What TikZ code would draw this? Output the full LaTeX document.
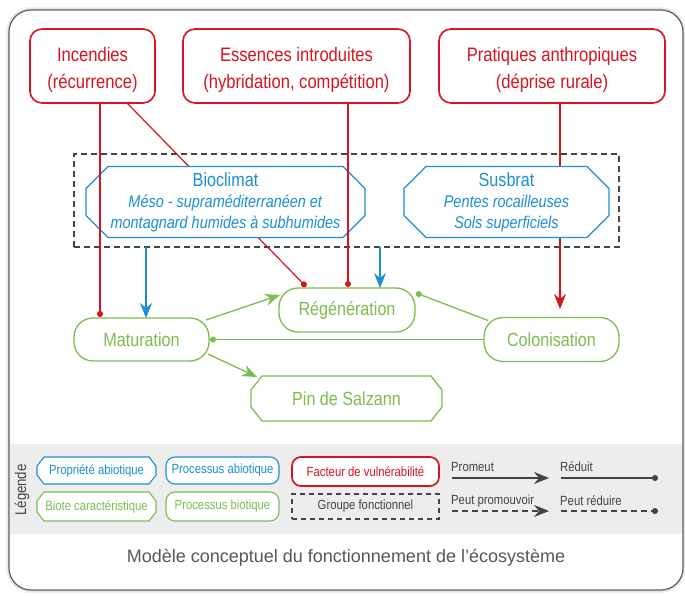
\documentclass[tikz,border=0pt]{standalone}
\usepackage{fontspec}
\setmainfont{Liberation Sans}[FakeStretch=0.85]
\newfontfamily\capfont{Liberation Sans}
\usetikzlibrary{arrows.meta,calc}

\definecolor{vred}{HTML}{D7141E}
\definecolor{ablue}{HTML}{1B8FD2}
\definecolor{bgreen}{HTML}{7CBD4F}
\definecolor{ink}{HTML}{444444}
\definecolor{bandgray}{HTML}{EDEDED}

\pgfdeclarelayer{back}
\pgfdeclarelayer{hidden}
\pgfdeclarelayer{mid}
\pgfsetlayers{back,hidden,mid,main}

% chamfered outline drawn around a (text-only) node: node, cut x, cut y, colour, width
\newcommand\octoutline[5]{%
  \draw[#4, line width=#5, fill=white, line join=miter]
    ($(#1.north west)+(#2,0)$) -- ($(#1.north east)+(-#2,0)$)
    -- ($(#1.north east)+(0,#3)$) -- ($(#1.south east)+(0,-#3)$)
    -- ($(#1.south east)+(-#2,0)$) -- ($(#1.south west)+(#2,0)$)
    -- ($(#1.south west)+(0,-#3)$) -- ($(#1.north west)+(0,#3)$) -- cycle;}

\begin{document}
\begin{tikzpicture}[x=1pt,y=-1pt,
  factor/.style={draw=vred, line width=1.6pt, rounded corners=12pt, fill=white,
    inner sep=0pt, outer sep=0pt},
  factortext/.style={text=vred, align=center, inner sep=0pt,
    font=\fontsize{19.5}{27}\selectfont},
  proc/.style={draw=bgreen, line width=1.3pt, rounded corners=19pt, fill=white,
    text=bgreen, inner sep=0pt, outer sep=0pt, font=\fontsize{19}{22}\selectfont},
  octnode/.style={inner sep=0pt, outer sep=0pt, align=center},
  legtext/.style={font=\fontsize{13.3}{15}\selectfont},
  legbox/.style={inner sep=0pt, outer sep=0pt, legtext, minimum height=27pt},
  redline/.style={vred, line width=1.2pt},
  blueline/.style={ablue, line width=1.2pt},
  greenline/.style={bgreen, line width=1.3pt},
  inkline/.style={ink, line width=1.2pt},
  promo/.style={-{Stealth[length=15pt,width=12pt,inset=5pt]}},
  reduce/.style={-{Circle[length=6pt]}},
  legreduce/.style={-{Circle[length=6pt]}},
  dashline/.style={dash pattern=on 6pt off 4pt}
]
\useasboundingbox (0,0) rectangle (685,596);

% ---------- outer frame and legend band ----------
\begin{pgfonlayer}{back}
  \draw[black, opacity=0.06, line width=6pt, rounded corners=22pt] (9,10) rectangle (683,590);
  \draw[black, opacity=0.08, line width=3pt, rounded corners=22pt] (9,10) rectangle (683,590);
  \fill[white, rounded corners=22pt] (9,10) rectangle (683,590);
  \fill[bandgray] (9.6,444) rectangle (682.4,534);
  \draw[ink!85!white, line width=1.2pt, rounded corners=22pt] (9,10) rectangle (683,590);
\end{pgfonlayer}

% ---------- vulnerability factors ----------
\node[factor, minimum width=125pt, minimum height=74pt] (inc) at (92.5,66) {};
\node[factor, minimum width=227pt, minimum height=74pt] (ess) at (296.5,66) {};
\node[factor, minimum width=226pt, minimum height=74pt] (pra) at (552,66) {};
\node[factortext] (inct) at (92.5,69.5) {Incendies\\(récurrence)};
\node[factortext] (esst) at (296.5,69.5) {Essences introduites\\(hybridation, compétition)};
\node[factortext] (prat) at (552,69.5) {Pratiques anthropiques\\(déprise rurale)};

% ---------- functional group with abiotic properties ----------
\begin{pgfonlayer}{hidden}
  \node[draw=ink, dashline, line width=1.2pt, inner sep=0pt, outer sep=0pt,
        minimum width=545pt, minimum height=93pt] (grp) at (346.5,200.5) {};
\end{pgfonlayer}

\node[octnode, text=ablue, minimum width=279pt, minimum height=71pt,
      font=\fontsize{17}{21}\selectfont] (bio) at (225.5,202)
  {{\fontsize{19}{21}\selectfont Bioclimat}\\
   \textit{Méso - supraméditerranéen et}\\
   \textit{montagnard humides à subhumides}};
\node[octnode, text=ablue, minimum width=205pt, minimum height=71pt,
      font=\fontsize{17}{21}\selectfont] (sus) at (506.5,202)
  {{\fontsize{19}{21}\selectfont Susbrat}\\
   \textit{Pentes rocailleuses}\\
   \textit{Sols superficiels}};

% ---------- biotic processes ----------
\node[proc, minimum width=135pt, minimum height=43pt] (mat) at (141.5,339.5) {Maturation};
\node[proc, minimum width=136pt, minimum height=44pt] (reg) at (347,310) {Régénération};
\node[proc, minimum width=135pt, minimum height=44pt] (col) at (551.5,339.5) {Colonisation};
\node[octnode, text=bgreen, minimum width=191pt, minimum height=45pt,
      font=\fontsize{19}{22}\selectfont] (pin) at (346.5,398.5) {Pin de Salzann};

\begin{pgfonlayer}{mid}
  \octoutline{bio}{22}{22}{ablue}{1.3pt}
  \octoutline{sus}{22}{22}{ablue}{1.3pt}
  \octoutline{pin}{11}{14}{bgreen}{1.3pt}
\end{pgfonlayer}

% ---------- anchor points for connectors ----------
\coordinate (rx1) at (100,317);
\coordinate (rdiag) at (306,286.5);
\coordinate (rx2) at (348,287);
\coordinate (rx3) at (560,309);
\coordinate (bx1) at (146,0);
\coordinate (bx2) at (380,0);

% connectors passing behind the abiotic properties
\begin{pgfonlayer}{hidden}
  \draw[redline, reduce] ([xshift=97pt]inc.south west) -- (rdiag);
  \draw[redline, promo] (pra.south -| rx3) -- (rx3);
\end{pgfonlayer}

% vulnerability factors
\draw[redline, reduce] (inc.south -| rx1) -- (rx1);
\draw[redline, reduce] (ess.south -| rx2) -- (rx2);

% abiotic properties promote
\draw[blueline, promo] (grp.south -| bx1) -- (mat.north -| bx1);
\draw[blueline, promo] (grp.south -| bx2) -- (reg.north -| bx2);

% biotic dynamics
\draw[greenline, promo] ([xshift=-3pt,yshift=-2pt]mat.north east) -- ([xshift=1pt,yshift=-7pt]reg.north west);
\draw[greenline, reduce] ([xshift=4pt,yshift=-3pt]col.north west) -- ([xshift=1pt,yshift=-5pt]reg.north east);
\draw[greenline, reduce] (col.west) -- ([xshift=1pt]mat.east);
\draw[greenline, promo] ([xshift=-1pt,yshift=7pt]mat.south east) -- ([xshift=6pt,yshift=-1pt]pin.north west);

% ---------- legend ----------
\node[rotate=90, text=ink, font=\fontsize{15.5}{17}\selectfont] (leg) at (22,490) {Légende};

\node[legbox, text=ablue, minimum width=119pt, minimum height=27pt] (lprop) at (96.5,470.5) {Propriété abiotique};
\node[legbox, text=bgreen, minimum width=119pt, minimum height=29pt] (lbiote) at (96.5,506.5) {Biote caractéristique};
\begin{pgfonlayer}{mid}
  \octoutline{lprop}{7}{9}{ablue}{1.1pt}
  \octoutline{lbiote}{7}{9}{bgreen}{1.1pt}
\end{pgfonlayer}

\node[legbox, draw=ablue, line width=1.1pt, rounded corners=9pt, fill=white, text=ablue,
      minimum width=113pt] (lpab) at (222.5,470.5) {Processus abiotique};
\node[legbox, draw=bgreen, line width=1.1pt, rounded corners=9pt, fill=white, text=bgreen,
      minimum width=113pt, minimum height=29pt] (lpbio) at (222.5,506.5) {Processus biotique};
\node[legbox, draw=vred, line width=1.7pt, rounded corners=9pt, fill=white, text=vred,
      minimum width=147pt, minimum height=29pt] (lfact) at (365.5,471.5) {Facteur de vulnérabilité};
\node[legbox, draw=ink, line width=1.1pt, dash pattern=on 5pt off 4pt, text=ink,
      minimum width=147pt, minimum height=25pt] (lgrp) at (365.5,506.5) {Groupe fonctionnel};

\node[anchor=west, inner sep=0pt, legtext, text=ink] (tprom) at (451,467) {Promeut};
\node[anchor=west, inner sep=0pt, legtext, text=ink] (tred) at (560,467) {Réduit};
\node[anchor=west, inner sep=0pt, legtext, text=ink] (tpprom) at (451,501) {Peut promouvoir};
\node[anchor=west, inner sep=0pt, legtext, text=ink] (tpred) at (560,501) {Peut réduire};

\coordinate (la1) at (452,478);  \coordinate (la2) at (549,478);
\coordinate (lb1) at (561,478);  \coordinate (lb2) at (658,478);
\coordinate (lc1) at (452,511);  \coordinate (lc2) at (549,511);
\coordinate (ld1) at (561,511);  \coordinate (ld2) at (658,511);
\draw[inkline, promo] (la1) -- (la2);
\draw[inkline, legreduce] (lb1) -- (lb2);
\draw[inkline, promo, dashline] (lc1) -- (lc2);
\draw[inkline, legreduce, dashline] (ld1) -- (ld2);

% ---------- caption ----------
\node[text=ink!90!white, font=\capfont\fontsize{18}{20}\selectfont] (cap) at (346,558)
  {Modèle conceptuel du fonctionnement de l’écosystème};
\end{tikzpicture}
\end{document}
